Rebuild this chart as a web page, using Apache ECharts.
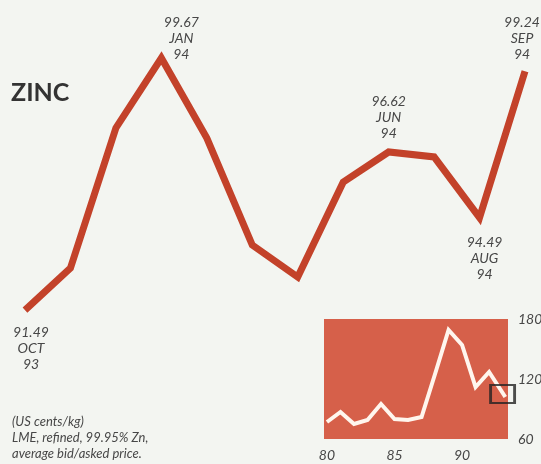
<!DOCTYPE html>
<html>
<head>
<meta charset="utf-8">
<script src="https://cdn.jsdelivr.net/npm/echarts@6/dist/echarts.min.js"></script>
<style>
  html, body { margin: 0; padding: 0; background: #f3f5f1; }
  #chart { width: 541px; height: 464px; }
</style>
</head>
<body>
<div id="chart"></div>
<script>
// Monthly zinc price, Oct 1993 – Sep 1994 (US cents/kg)
const months = ['OCT', 'NOV', 'DEC', 'JAN', 'FEB', 'MAR', 'APR', 'MAY', 'JUN', 'JUL', 'AUG', 'SEP'];
const yearsShort = ['93', '93', '93', '94', '94', '94', '94', '94', '94', '94', '94', '94'];
const zincPrice = [91.49, 92.85, 97.40, 99.67, 97.07, 93.60, 92.56, 95.64, 96.62, 96.46, 94.49, 99.24];

// Long-run annual averages for the small panel
const historyYears = [80, 81, 82, 83, 84, 85, 86, 87, 88, 89, 90, 91, 92, 93.2];
const historyPrice = [77, 87, 75, 79, 95, 80, 79, 82, 125, 169, 154, 112, 127, 102];
const historyTicks = [80, 85, 90];
// the period covered by the main chart, marked on the small panel
const currentPeriod = [[93.0, 105]];

const noteLines = ['(US cents/kg)', 'LME, refined, 99.95% Zn,', 'average bid/asked price.'];

const textColor = '#474747';
const font = 'Lato, "Open Sans", sans-serif';

// where each annotated point's caption sits
const labelPlacement = {
  0: { position: 'bottom', distance: 14, offset: [6, 0] },
  3: { position: 'top', distance: 0, offset: [20, 5] },
  8: { position: 'top', distance: 10, offset: [0, 0] },
  10: { position: 'bottom', distance: 16, offset: [5, 0] },
  11: { position: 'top', distance: 8, offset: [-3, 0] }
};

const mainData = zincPrice.map((v, i) => {
  const p = labelPlacement[i];
  if (!p) return v;
  return {
    value: v,
    label: {
      show: true,
      position: p.position,
      distance: p.distance,
      offset: p.offset,
      formatter: () => v.toFixed(2) + '\n' + months[i] + '\n' + yearsShort[i]
    }
  };
});

const chart = echarts.init(document.getElementById('chart'), null, { renderer: 'canvas' });

chart.setOption({
  backgroundColor: '#f3f5f1',
  animation: false,
  title: {
    text: 'ZINC',
    left: 6,
    top: 75,
    textStyle: { fontFamily: font, fontWeight: 'bold', fontSize: 25, color: '#333' }
  },
  grid: [
    { left: 25, right: 16, top: 17, bottom: 108, outerBoundsMode: 'none' },
    {
      left: 324, right: 33, top: 319, bottom: 25,
      outerBoundsMode: 'none',
      show: true, backgroundColor: '#d6604a', borderWidth: 0
    }
  ],
  xAxis: [
    {
      gridIndex: 0, type: 'category', data: months, boundaryGap: false,
      show: false
    },
    {
      gridIndex: 1, type: 'value', min: 79.78, max: 93.4,
      axisLine: { show: false }, axisTick: { show: false }, splitLine: { show: false },
      axisLabel: {
        customValues: historyTicks,
        margin: 9,
        fontFamily: font, fontStyle: 'italic', fontSize: 14, color: textColor
      }
    }
  ],
  yAxis: [
    { gridIndex: 0, type: 'value', min: 90, max: 101, show: false },
    {
      gridIndex: 1, type: 'value', position: 'right', min: 60, max: 180, interval: 60,
      axisLine: { show: false }, axisTick: { show: false }, splitLine: { show: false },
      axisLabel: {
        margin: 10,
        fontFamily: font, fontStyle: 'italic', fontSize: 14, color: textColor
      }
    }
  ],
  series: [
    {
      type: 'line',
      xAxisIndex: 0, yAxisIndex: 0,
      data: mainData,
      symbol: 'circle',
      symbolSize: 1,
      itemStyle: { color: 'rgba(0,0,0,0)' },
      lineStyle: { color: '#c3422a', width: 7, join: 'miter', cap: 'butt' },
      label: {
        show: false,
        fontFamily: font, fontStyle: 'italic', fontSize: 14, lineHeight: 16,
        color: textColor, align: 'center'
      },
      emphasis: { disabled: true },
      z: 3
    },
    {
      type: 'line',
      xAxisIndex: 1, yAxisIndex: 1,
      data: historyYears.map((y, i) => [y, historyPrice[i]]),
      showSymbol: false,
      clip: false,
      lineStyle: { color: '#fff6ee', width: 4, join: 'miter' },
      emphasis: { disabled: true }
    },
    {
      type: 'scatter',
      xAxisIndex: 1, yAxisIndex: 1,
      data: currentPeriod,
      symbol: 'rect',
      symbolSize: [24, 18],
      clip: false,
      silent: true,
      itemStyle: { color: 'rgba(0,0,0,0)', borderColor: '#222', borderWidth: 2.5 },
      z: 4
    }
  ],
  graphic: noteLines.map((t, i) => ({
    type: 'text',
    left: 12,
    top: 415 + i * 16,
    style: {
      text: t,
      font: 'italic 13px ' + font,
      fill: textColor
    }
  }))
});
</script>
</body>
</html>
